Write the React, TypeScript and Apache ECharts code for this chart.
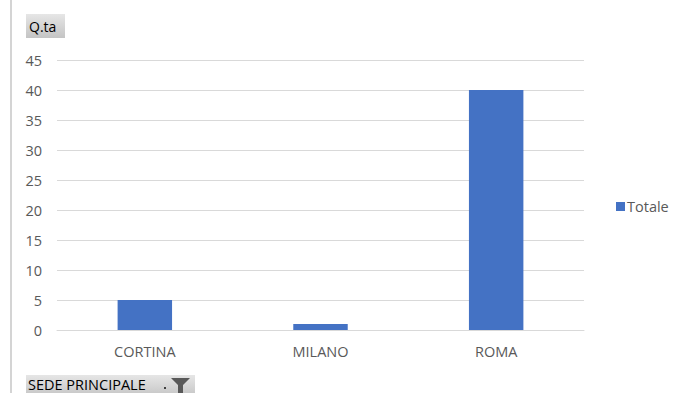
import React, { useEffect, useRef } from "react";
import * as echarts from "echarts";

const categories = ["CORTINA", "MILANO", "ROMA"];
const totale = [5, 1, 40];
const seriesName = "Totale";
const valueAxisTitle = "Q.ta";
const categoryAxisTitle = "SEDE PRINCIPALE";

const FONT = "'Open Sans', 'Noto Sans', sans-serif";

export default function App() {
  const ref = useRef<HTMLDivElement>(null);
  useEffect(() => {
    if (!ref.current) return;
    const chart = echarts.init(ref.current, undefined, { renderer: "svg" });
    const grad = {
      type: "linear", x: 0, y: 0, x2: 0, y2: 1,
      colorStops: [
        { offset: 0, color: "#e6e6e6" },
        { offset: 1, color: "#c4c4c4" },
      ],
    };
    chart.setOption({
      animation: false,
      backgroundColor: "#ffffff",
      textStyle: { fontFamily: FONT },
      grid: { left: 57, right: 101, top: 60, bottom: 63, containLabel: false },
      legend: {
        data: [seriesName],
        orient: "vertical",
        left: 611,
        top: 194,
        itemWidth: 9,
        itemHeight: 9,
        itemGap: 4,
        icon: "rect",
        textStyle: { color: "#595959", fontSize: 14.5, fontFamily: FONT, padding: [0, 0, 0, -3] },
      },
      xAxis: {
        type: "category",
        data: categories,
        axisLine: { lineStyle: { color: "#d9d9d9", width: 1 } },
        axisTick: { show: false },
        axisLabel: { color: "#595959", fontSize: 14.5, margin: 14, fontFamily: FONT },
      },
      yAxis: {
        type: "value",
        min: 0,
        max: 45,
        interval: 5,
        axisLine: { show: false },
        axisTick: { show: false },
        axisLabel: { color: "#595959", fontSize: 14.5, margin: 15, fontFamily: FONT },
        splitLine: { lineStyle: { color: "#d9d9d9", width: 1 } },
      },
      series: [
        {
          name: seriesName,
          type: "bar",
          data: totale,
          barWidth: "31%",
          itemStyle: { color: "#4472c4" },
        },
      ],
      graphic: [
        { type: "line", shape: { x1: 11, y1: 0, x2: 11, y2: 393 }, style: { stroke: "#d4d4d4", lineWidth: 2 } },
        { type: "rect", shape: { x: 26, y: 14, width: 39, height: 24 }, style: { fill: grad as any } },
        { type: "text", x: 29, y: 26, style: { text: valueAxisTitle, fill: "#000000", fontSize: 14, fontFamily: FONT, verticalAlign: "middle" } },
        { type: "rect", shape: { x: 26, y: 375, width: 169, height: 22 }, style: { fill: grad as any } },
        { type: "text", x: 28, y: 384, style: { text: categoryAxisTitle, fill: "#000000", fontSize: 14.5, fontFamily: FONT, verticalAlign: "middle" } },
        { type: "rect", shape: { x: 164, y: 387, width: 2, height: 2 }, style: { fill: "#404040" } },
        { type: "polygon", shape: { points: [[171, 378], [190, 378], [183, 385], [183, 393], [178, 393], [178, 385]] }, style: { fill: "#595959" } },
      ],
    });
    return () => chart.dispose();
  }, []);
  return (
    <div
      ref={ref}
      style={{ position: "absolute", left: 0, top: 0, width: 685, height: 393 }}
    />
  );
}
